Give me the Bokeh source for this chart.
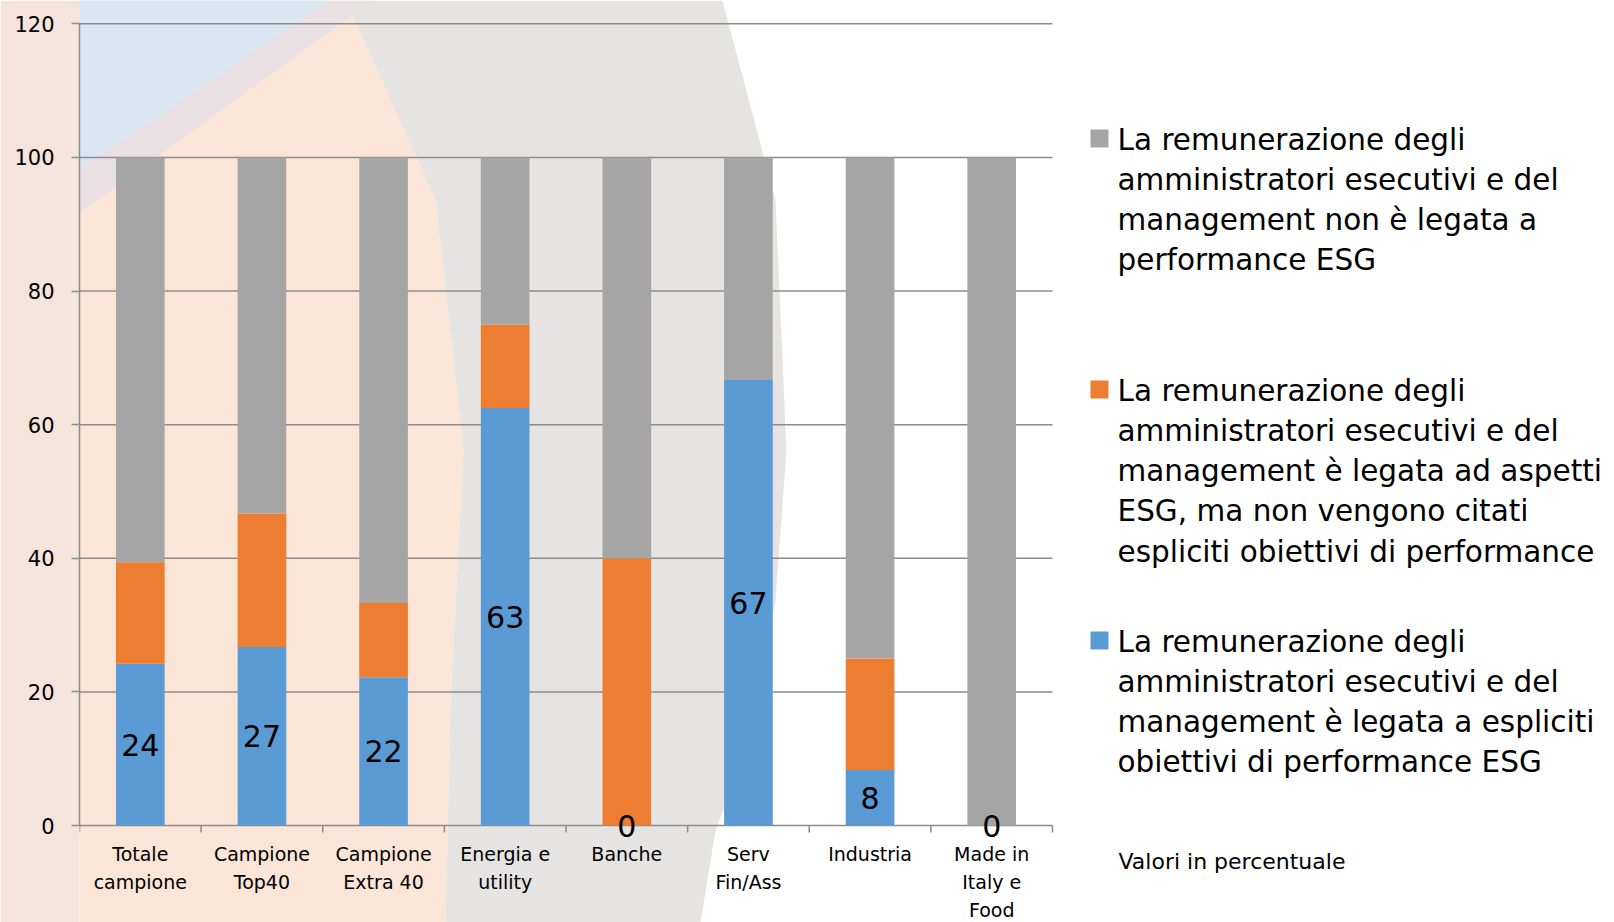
import math
from bokeh.plotting import figure
from bokeh.models import (Range1d, FixedTicker, ColumnDataSource, Label,
                          BoxAnnotation, PolyAnnotation)
from bokeh.embed import file_html
from bokeh.resources import INLINE
from bokeh.core.properties import value

# ---------------- data ----------------
categories = ["Totale\ncampione", "Campione\nTop40", "Campione\nExtra 40", "Energia e\nutility",
              "Banche", "Serv\nFin/Ass", "Industria", "Made in\nItaly e\nFood"]
esg_explicit = [24.2, 26.7, 22.2, 62.5, 0.0, 66.7, 8.3, 0.0]
esg_generic = [15.2, 20.0, 11.1, 12.5, 40.0, 0.0, 16.7, 0.0]
not_linked = [60.6, 53.3, 66.7, 25.0, 60.0, 33.3, 75.0, 100.0]
y_ticks = [0, 20, 40, 60, 80, 100, 120]

legend_not_linked = ["La remunerazione degli", "amministratori esecutivi e del",
                     "management non è legata a", "performance ESG"]
legend_generic = ["La remunerazione degli", "amministratori esecutivi e del",
                  "management è legata ad aspetti", "ESG, ma non vengono citati",
                  "espliciti obiettivi di performance"]
legend_explicit = ["La remunerazione degli", "amministratori esecutivi e del",
                   "management è legata a espliciti", "obiettivi di performance ESG"]
note = "Valori in percentuale"

# ---------------- layout / style ----------------
FONT = "DejaVu Sans"
C_BLUE, C_ORANGE, C_GRAY = "#5B9BD5", "#ED7D31", "#A5A5A5"
GRID = "#8C8C8C"
W, H = 1614, 922
X0_PX, XN_PX = 79, 1052        # pixel position of the category axis start / end
Y0_PX, YT_PX = 825, 23.3       # pixel position of y = 0 and y = top tick
LABEL_DY = -9                  # baseline correction for Label annotations

n = len(categories)
ymax = y_ticks[-1]
ppx = (XN_PX - X0_PX) / n            # pixels per category
ppy = (Y0_PX - YT_PX) / ymax         # pixels per y unit
x_range = Range1d(0, (W - X0_PX) / ppx)
y_range = Range1d(-(H - Y0_PX) / ppy, ymax + YT_PX / ppy)

xs = [i + 0.5 for i in range(n)]
src = ColumnDataSource(dict(
    x=xs, explicit=esg_explicit, generic=esg_generic, notl=not_linked,
    ymid=[v / 2 for v in esg_explicit],
    lbl=[str(int(math.floor(v + 0.5))) for v in esg_explicit],
    cat=categories,
    base=[y_ticks[0]] * n,
))

p = figure(width=W, height=H, x_range=x_range, y_range=y_range,
           output_backend="svg", toolbar_location=None, x_axis_location=None,
           min_border_left=X0_PX, min_border_top=0, min_border_right=0, min_border_bottom=0)
p.outline_line_color = None
p.background_fill_color = "white"
p.border_fill_color = "#F5E4DC"
p.grid.visible = False


# helpers: reference-pixel coordinates -> frame screen units
def sx(X):
    return X - X0_PX


def sy(Y):
    return H - Y


def poly(points, color):
    p.add_layout(PolyAnnotation(xs=[sx(a) for a, b in points], ys=[sy(b) for a, b in points],
                                xs_units="screen", ys_units="screen", fill_color=color,
                                fill_alpha=1, line_color=None, level="image"))


# ---- soft background (approximation of the photo behind the chart) ----
poly([(0, 0), (345, 0), (435, 200), (463, 450), (450, 700), (445, 922), (0, 922)], "#FBE5D7")
poly([(345, 0), (722, 0), (775, 200), (786, 450), (775, 600), (745, 750), (715, 830),
      (700, 922), (445, 922), (450, 700), (463, 450), (435, 200)], "#E5E4E2")
poly([(0, 0), (372, 0), (0, 270)], "#E8E0E3")
poly([(0, 0), (330, 0), (0, 222)], "#DAE7F2")

# ---- grid lines ----
p.segment(x0=0, x1=n, y0=y_ticks, y1=y_ticks, line_color=GRID, line_width=1.5)

# ---- bars ----
p.vbar_stack(["explicit", "generic", "notl"], x="x", width=0.4, source=src,
             color=[C_BLUE, C_ORANGE, C_GRAY], line_color=None)

p.text(x="x", y="ymid", text="lbl", source=src, text_align="center",
       text_baseline="middle", text_font=value(FONT), text_font_size="30px",
       text_color="#000000")

# ---- category axis (ticks between categories, labels below) ----
p.ray(x=list(range(n + 1)), y=y_ticks[0], length=7, length_units="screen",
      angle=-math.pi / 2, line_color=GRID, line_width=1.5)
p.text(x="x", y="base", text="cat", source=src, text_align="center", text_baseline="top",
       y_offset=17, text_font=value(FONT), text_font_size="19px",
       text_line_height=1.28, text_color="#000000")

# ---- value axis ----
p.yaxis.ticker = FixedTicker(ticks=y_ticks)
p.yaxis.bounds = (y_ticks[0], ymax)
p.yaxis.axis_line_color = GRID
p.yaxis.axis_line_width = 1.5
p.yaxis.major_tick_line_color = GRID
p.yaxis.major_tick_line_width = 1.5
p.yaxis.major_tick_out = 8
p.yaxis.major_tick_in = 0
p.yaxis.minor_tick_line_color = None
p.yaxis.major_label_text_font = FONT
p.yaxis.major_label_text_font_size = "21px"
p.yaxis.major_label_text_color = "#000000"
p.yaxis.major_label_standoff = 17

# ---- legend (drawn manually, as in the reference) ----
legend_items = [(C_GRAY, legend_not_linked, 129), (C_ORANGE, legend_generic, 380),
                (C_BLUE, legend_explicit, 631)]
for color, lines, top in legend_items:
    p.add_layout(BoxAnnotation(left=sx(1090), right=sx(1108), top=sy(top), bottom=sy(top + 18),
                               left_units="screen", right_units="screen", top_units="screen",
                               bottom_units="screen", fill_color=color, fill_alpha=1,
                               line_color=None))
    for k, line in enumerate(lines):
        p.add_layout(Label(x=sx(1117), y=sy(top + 19 + 40.3 * k + LABEL_DY), x_units="screen",
                           y_units="screen", text=line, text_font=FONT,
                           text_font_size="29.5px", text_baseline="alphabetic",
                           text_color="#000000"))

p.add_layout(Label(x=sx(1118), y=sy(870 + LABEL_DY), x_units="screen", y_units="screen",
                   text=note, text_font=FONT, text_font_size="22px",
                   text_baseline="alphabetic", text_color="#000000"))

open("out.html", "w").write(file_html(p, INLINE))
